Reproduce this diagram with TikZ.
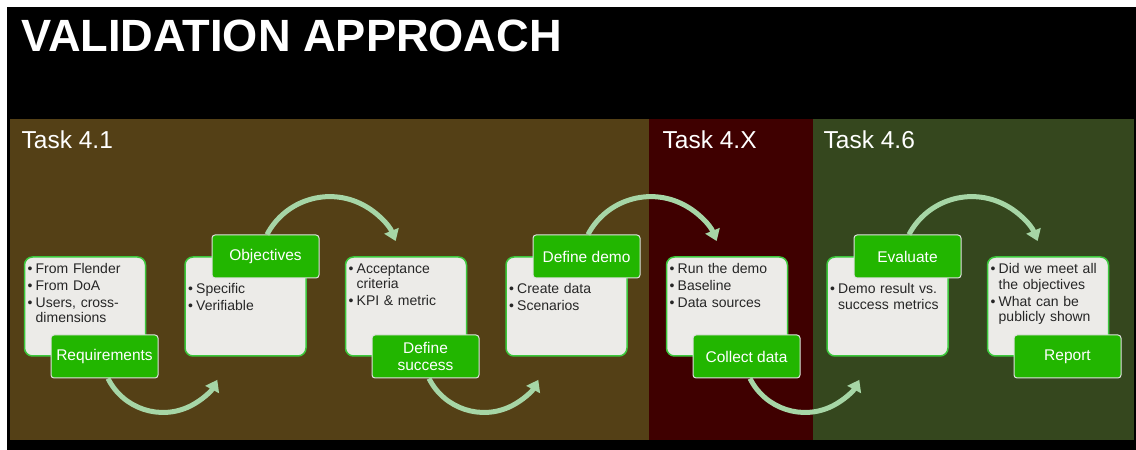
\documentclass[tikz,border=0pt]{standalone}
\usepackage{fontspec}
\setmainfont{Liberation Sans}
\usetikzlibrary{arrows.meta}

\definecolor{taskbrown}{HTML}{544016}
\definecolor{taskred}{HTML}{3F0000}
\definecolor{taskgreen}{HTML}{35471E}
\definecolor{boxgrey}{HTML}{ECEBE8}
\definecolor{boxline}{HTML}{3CC83C}
\definecolor{lblgreen}{HTML}{22B600}
\definecolor{flowgreen}{HTML}{A6D6A6}

\newcommand{\bul}[1]{\setlength{\parskip}{1.2pt}\hangindent=8pt\hangafter=1\noindent\makebox[8pt][l]{\textbullet}#1\par}

\tikzset{
  infobox/.style={draw=boxline, line width=1.5pt, fill=boxgrey, rounded corners=8pt,
    minimum width=121pt, minimum height=99pt, inner sep=0pt},
  infotext/.style={anchor=north west, inner sep=0pt, text width=114pt, text=black!85,
    font=\fontsize{14}{15.5}\selectfont},
  steplabel/.style={draw=black!12, line width=1pt, fill=lblgreen, rounded corners=3pt,
    minimum width=107pt, minimum height=43pt, inner sep=0pt, text=white, align=center,
    font=\fontsize{15.5}{16.5}\selectfont},
  flow/.style={draw=flowgreen, line width=5pt, -{Triangle[width=15pt,length=11pt]}},
  tasktitle/.style={anchor=base west, inner sep=0pt, text=white, font=\fontsize{24.5}{29}\selectfont}
}

\begin{document}
\begin{tikzpicture}[x=1pt, y=1pt]
\useasboundingbox (0,0) rectangle (1136,450);
\fill[white] (0,0) rectangle (1136,450);
\fill[black] (7,0) rectangle (1136,443);
\fill[taskbrown] (10,10) rectangle (649,331);
\fill[taskred] (649,10) rectangle (813,331);
\fill[taskgreen] (813,10) rectangle (1134,331);

\node[anchor=base west, inner sep=0pt, text=white, font=\fontsize{45.2}{50}\selectfont\bfseries] (title) at (21,398) {VALIDATION APPROACH};
\node[tasktitle] (t41) at (21.5,301) {Task 4.1};
\node[tasktitle] (t4x) at (662.5,301) {Task 4.X};
\node[tasktitle] (t46) at (823.5,301) {Task 4.6};

\node[infobox] (b1) at (85,143.5) {};
\node[infobox] (b2) at (245.5,143.5) {};
\node[infobox] (b3) at (406,143.5) {};
\node[infobox] (b4) at (566.5,143.5) {};
\node[infobox] (b5) at (727,143.5) {};
\node[infobox] (b6) at (887.5,143.5) {};
\node[infobox] (b7) at (1048,143.5) {};

\node[infotext] (x1) at (27.5,186.5) {\bul{From Flender}\bul{From DoA}\bul{Users, cross-\newline dimensions}};
\node[infotext] (x2) at (188,166.5) {\bul{Specific}\bul{Verifiable}};
\node[infotext] (x3) at (348.5,186.5) {\bul{Acceptance\newline criteria}\bul{KPI \& metric}};
\node[infotext] (x4) at (509,166.5) {\bul{Create data}\bul{Scenarios}};
\node[infotext] (x5) at (669.5,186.5) {\bul{Run the demo}\bul{Baseline}\bul{Data sources}};
\node[infotext] (x6) at (830,166.5) {\bul{Demo result vs.\newline success metrics}};
\node[infotext] (x7) at (990.5,186.5) {\bul{Did we meet all\newline the objectives}\bul{What can be\newline publicly shown}};

\node[steplabel] (req) at (104.5,93.5) {Requirements};
\node[steplabel] (obj) at (265.5,193.5) {Objectives};
\node[steplabel] (succ) at (425.5,93.5) {Define\\success};
\node[steplabel] (demo) at (586.5,193.5) {Define demo};
\node[steplabel] (coll) at (746.5,93.5) {Collect data};
\node[steplabel] (eval) at (907.5,193.5) {Evaluate};
\node[steplabel] (rep) at (1067.5,93.5) {Report};

\draw[flow] ([xshift=3.5pt]req.south) arc[start angle=206.6, end angle=332, radius=61.5pt];
\draw[flow] ([xshift=1.5pt]obj.north) arc[start angle=152.2, end angle=22, radius=71pt];
\draw[flow] ([xshift=3.5pt]succ.south) arc[start angle=206.6, end angle=332, radius=61.5pt];
\draw[flow] ([xshift=1.5pt]demo.north) arc[start angle=152.2, end angle=22, radius=71pt];
\draw[flow] ([xshift=3.5pt]coll.south) arc[start angle=206.6, end angle=332, radius=61.5pt];
\draw[flow] ([xshift=1.5pt]eval.north) arc[start angle=152.2, end angle=22, radius=71pt];
\end{tikzpicture}
\end{document}
